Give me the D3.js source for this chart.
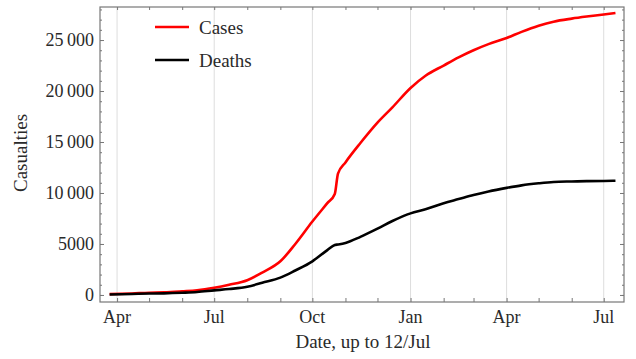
<!DOCTYPE html>
<html>
<head>
<meta charset="utf-8">
<script src="https://cdn.jsdelivr.net/npm/d3@7"></script>
<style>
  body { margin: 0; background: #fff; }
  text { font-family: "Liberation Serif", "DejaVu Serif", serif; fill: #2a2a2a; }
</style>
</head>
<body>
<div id="chart"></div>
<script>
// data (cumulative counts)
var dates = ["2014-03-25","2014-04-15","2014-05-01","2014-05-15","2014-06-01","2014-06-15",
  "2014-07-01","2014-07-15","2014-08-01","2014-08-15","2014-09-01","2014-09-15",
  "2014-10-01","2014-10-15","2014-10-22","2014-10-25","2014-11-01","2014-11-15",
  "2014-12-01","2014-12-15","2015-01-01","2015-01-15","2015-02-01","2015-02-15",
  "2015-03-01","2015-03-15","2015-04-01","2015-04-15","2015-05-01","2015-05-15",
  "2015-06-01","2015-06-15","2015-07-01","2015-07-12"];
var cases = [80,150,220,250,350,450,
  700,1000,1450,2200,3300,5000,
  7200,9000,9900,11900,13000,14900,
  16900,18400,20300,21500,22500,23300,
  24000,24600,25200,25800,26400,26800,
  27100,27300,27500,27650];
var deaths = [50,100,140,160,220,290,
  450,580,800,1200,1700,2400,
  3300,4400,4900,4950,5100,5700,
  6500,7250,8000,8400,9000,9400,
  9800,10150,10500,10750,10950,11080,
  11130,11160,11180,11200];
var yTicks = [0, 5000, 10000, 15000, 20000, 25000];
var xTickLabels = ["Apr", "Jul", "Oct", "Jan", "Apr", "Jul"];
var seriesNames = ["Cases", "Deaths"];
var seriesColors = ["#ff0000", "#000000"];

var width = 636, height = 359;
var margin = {top: 7, right: 12, bottom: 57, left: 100};
var w = width - margin.left - margin.right,
    h = height - margin.top - margin.bottom;

var parse = d3.timeParse("%Y-%m-%d");

var svg = d3.select("#chart").append("svg")
  .attr("width", width)
  .attr("height", height);

var g = svg.append("g")
  .attr("transform", "translate(" + margin.left + "," + margin.top + ")");

var x = d3.scaleTime()
  .domain([parse("2014-03-16"), parse("2015-07-20")])
  .range([0, w]);
var y = d3.scaleLinear()
  .domain([-690, 28240])
  .range([h, 0]);

var quarters = d3.timeMonth.every(3).range(parse("2014-04-01"), parse("2015-07-02"));
var months = d3.timeMonth.range(parse("2014-04-01"), parse("2015-07-20"));

// vertical grid lines at quarters
g.selectAll(".grid")
  .data(quarters)
  .enter().append("line")
  .attr("x1", function(d) { return x(d); })
  .attr("x2", function(d) { return x(d); })
  .attr("y1", 0).attr("y2", h)
  .attr("stroke", "#ddd")
  .attr("stroke-width", 1);

// number format with a thin space for thousands (10 000 and up)
var fmt = function(v) {
  var s = String(v);
  if (v >= 10000) s = s.slice(0, s.length - 3) + "\u2009" + s.slice(-3);
  return s;
};

// frame ticks, pointing inward
var bottom = g.append("g")
  .attr("transform", "translate(0," + h + ")")
  .call(d3.axisBottom(x).tickValues(months).tickSizeInner(-4).tickSizeOuter(0).tickFormat(""));
var top_ = g.append("g")
  .call(d3.axisTop(x).tickValues(months).tickSizeInner(-3).tickSizeOuter(0).tickFormat(""));
var minorY = d3.range(0, 28001, 1000);
var left = g.append("g")
  .call(d3.axisLeft(y).tickValues(minorY).tickSizeInner(-2).tickSizeOuter(0).tickFormat(""));
var right = g.append("g")
  .attr("transform", "translate(" + w + ",0)")
  .call(d3.axisRight(y).tickValues(minorY).tickSizeInner(-2).tickSizeOuter(0).tickFormat(""));
var leftMajor = g.append("g")
  .call(d3.axisLeft(y).tickValues(yTicks).tickSizeInner(-4).tickSizeOuter(0).tickFormat(""));
var rightMajor = g.append("g")
  .attr("transform", "translate(" + w + ",0)")
  .call(d3.axisRight(y).tickValues(yTicks).tickSizeInner(-4).tickSizeOuter(0).tickFormat(""));
[bottom, top_, left, right, leftMajor, rightMajor].forEach(function(a) {
  a.select(".domain").remove();
  a.selectAll("line").attr("stroke", "#777");
});

// frame
g.append("rect")
  .attr("width", w).attr("height", h)
  .attr("fill", "none")
  .attr("stroke", "#777")
  .attr("stroke-width", 1.2);

// tick labels
g.selectAll(".ylab")
  .data(yTicks)
  .enter().append("text")
  .attr("x", -6)
  .attr("y", function(d) { return y(d); })
  .attr("dy", "0.35em")
  .attr("text-anchor", "end")
  .style("font-size", "18px")
  .text(fmt);

g.selectAll(".xlab")
  .data(quarters)
  .enter().append("text")
  .attr("x", function(d) { return x(d); })
  .attr("y", h + 21)
  .attr("text-anchor", "middle")
  .style("font-size", "18px")
  .text(function(d, i) { return xTickLabels[i]; });

// axis titles
svg.append("text")
  .attr("x", 363)
  .attr("y", 348)
  .attr("text-anchor", "middle")
  .style("font-size", "19px")
  .text("Date, up to 12/Jul");

svg.append("text")
  .attr("transform", "translate(27,153)rotate(-90)")
  .attr("text-anchor", "middle")
  .style("font-size", "19px")
  .text("Casualties");

// lines
var series = [cases, deaths];
var line = d3.line()
  .x(function(d, i) { return x(parse(dates[i])); })
  .y(function(d) { return y(d); })
  .curve(d3.curveMonotoneX);

g.selectAll(".series")
  .data(series)
  .enter().append("path")
  .attr("d", function(d) { return line(d); })
  .attr("fill", "none")
  .attr("stroke", function(d, i) { return seriesColors[i]; })
  .attr("stroke-width", 2.6)
  .attr("stroke-linejoin", "round");

// legend
var legend = svg.selectAll(".legend")
  .data(seriesNames)
  .enter().append("g")
  .attr("transform", function(d, i) { return "translate(155," + (27 + i * 33) + ")"; });
legend.append("line")
  .attr("x1", 0).attr("x2", 34)
  .attr("stroke", function(d, i) { return seriesColors[i]; })
  .attr("stroke-width", 2.6);
legend.append("text")
  .attr("x", 44)
  .attr("dy", "0.35em")
  .style("font-size", "19px")
  .text(function(d) { return d; });
</script>
</body>
</html>
